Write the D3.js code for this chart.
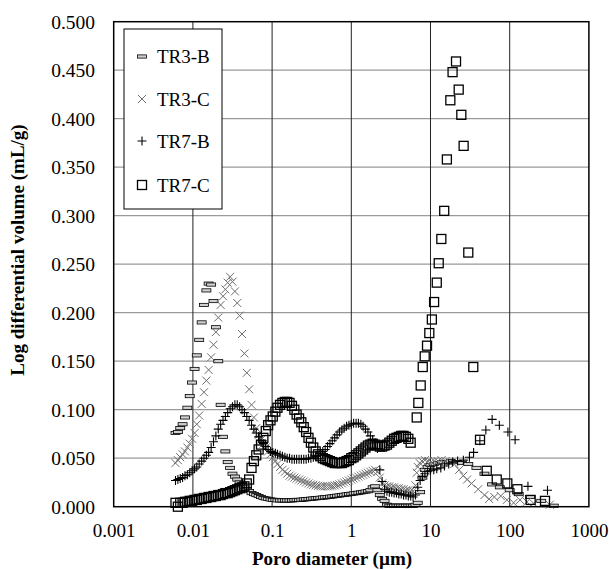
<!DOCTYPE html>
<html>
<head>
<meta charset="utf-8">
<script src="https://cdn.jsdelivr.net/npm/d3@7"></script>
<style>
  body { margin: 0; background: #fff; }
  svg text { font-family: "Liberation Serif", "Times New Roman", "DejaVu Serif", serif; fill: #000; }
</style>
</head>
<body>
<div id="chart"></div>
<script>
// pore diameters (um) shared by the dense part of all four curves
const poreDiameter = [
  0.00603,0.00646,0.00692,0.00741,0.00794,0.00851,0.00912,0.00977,0.0105,0.0112,
  0.0120,0.0129,0.0138,0.0148,0.0158,0.0170,0.0182,0.0195,0.0209,0.0224,
  0.0240,0.0257,0.0275,0.0295,0.0316,0.0339,0.0363,0.0389,0.0417,0.0447,
  0.0479,0.0513,0.0550,0.0589,0.0631,0.0676,0.0724,0.0776,0.0832,0.0891,
  0.0955,0.102,0.110,0.117,0.126,0.135,0.145,0.155,0.166,0.178,
  0.191,0.204,0.219,0.234,0.251,0.269,0.288,0.309,0.331,0.355,
  0.380,0.407,0.437,0.468,0.501,0.537,0.575,0.617,0.661,0.708,
  0.759,0.813,0.871,0.933,1.00,1.07,1.15,1.23,1.32,1.41,
  1.51,1.62,1.74,1.86,2.00,2.14,2.29,2.45,2.63,2.82,
  3.02,3.24,3.47,3.72,3.98,4.27,4.57,4.90,5.25,5.62,
  6.03,6.46
];

const tr3bValues = [
  0.076,0.077,0.081,0.085,0.092,0.102,0.114,0.128,0.142,0.156,
  0.172,0.190,0.208,0.223,0.230,0.229,0.212,0.185,0.150,0.105,
  0.072,0.057,0.046,0.040,0.034,0.031,0.028,0.025,0.022,0.020,
  0.018,0.016,0.014,0.013,0.012,0.011,0.010,0.009,0.0085,0.008,
  0.0075,0.007,0.007,0.0065,0.0065,0.0065,0.0065,0.0065,0.0065,0.0065,
  0.0068,0.007,0.007,0.0072,0.0075,0.0077,0.008,0.0082,0.0085,0.0087,
  0.009,0.0092,0.0095,0.0097,0.010,0.0103,0.0106,0.011,0.0113,0.0116,
  0.012,0.0123,0.0126,0.013,0.0133,0.0137,0.014,0.0144,0.0148,0.0152,
  0.0156,0.016,0.017,0.020,0.021,0.017,0.012,0.008,0.006,0.002,
  0.001,0.001,0.001,0.001,0.001,0.001,0.001,0.001,0.001,0.001,
  0.001,0.002
];
const tr3bTailD = [6.90,7.40,7.90,8.50,9.20,10.0,11.0,12.5,14.0,16.0,18.0,21.0,25.0,30.0,38.0,48.0,60.0,75.0,100,130,180,250,360];
const tr3bTailV = [0.004,0.015,0.030,0.038,0.041,0.043,0.044,0.045,0.046,0.046,0.047,0.046,0.045,0.044,0.040,0.034,0.023,0.020,0.017,0.013,0.010,0.006,0.001];

const tr3cValues = [
  0.045,0.048,0.051,0.054,0.057,0.061,0.065,0.070,0.076,0.085,
  0.094,0.106,0.118,0.130,0.141,0.154,0.167,0.180,0.195,0.208,
  0.217,0.224,0.231,0.237,0.232,0.222,0.210,0.197,0.178,0.158,
  0.138,0.121,0.105,0.092,0.081,0.074,0.069,0.065,0.061,0.057,
  0.054,0.051,0.047,0.044,0.041,0.038,0.036,0.034,0.032,0.031,
  0.030,0.029,0.028,0.027,0.026,0.025,0.024,0.023,0.0225,0.022,
  0.0215,0.021,0.021,0.021,0.021,0.021,0.0215,0.022,0.0225,0.023,
  0.024,0.025,0.026,0.027,0.028,0.029,0.030,0.031,0.032,0.033,
  0.034,0.035,0.036,0.037,0.038,0.036,0.030,0.024,0.022,0.021,
  0.021,0.020,0.020,0.019,0.019,0.018,0.018,0.017,0.017,0.016,
  0.016,0.022
];
const tr3cTailD = [6.70,6.90,7.30,7.80,8.50,9.30,10.2,11.2,12.4,13.8,15.5,17.5,20.0,23.0,26.0,29.0,33.0,40.0,48.0,55.0,64.0,77.0,92.0,112,135,165,200,320];
const tr3cTailV = [0.035,0.041,0.045,0.047,0.048,0.047,0.046,0.047,0.047,0.048,0.047,0.046,0.044,0.038,0.032,0.028,0.024,0.018,0.012,0.008,0.010,0.011,0.007,0.004,0.007,0.005,0.0035,0.002];

const tr7bValues = [
  0.027,0.028,0.029,0.030,0.032,0.033,0.035,0.037,0.039,0.041,
  0.044,0.047,0.050,0.053,0.056,0.061,0.067,0.073,0.080,0.085,
  0.089,0.093,0.097,0.101,0.103,0.105,0.105,0.103,0.100,0.097,
  0.093,0.089,0.084,0.080,0.076,0.072,0.068,0.065,0.062,0.059,
  0.057,0.056,0.055,0.054,0.053,0.052,0.051,0.050,0.050,0.049,
  0.049,0.049,0.049,0.049,0.049,0.049,0.050,0.050,0.051,0.052,
  0.053,0.055,0.057,0.059,0.062,0.065,0.068,0.071,0.074,0.077,
  0.079,0.081,0.083,0.084,0.085,0.086,0.086,0.086,0.085,0.083,
  0.080,0.077,0.073,0.069,0.066,0.060,0.038,0.026,0.018,0.016,
  0.015,0.015,0.014,0.014,0.013,0.013,0.012,0.012,0.011,0.011,
  0.010,0.012
];
const tr7bTailD = [6.90,7.40,7.90,8.50,9.20,10.0,11.0,12.0,13.5,15.0,17.0,19.0,22.0,26.0,31.0,35.0,42.0,50.0,60.0,74.0,95.0,117,170,300];
const tr7bTailV = [0.020,0.027,0.031,0.034,0.036,0.037,0.038,0.039,0.040,0.042,0.044,0.046,0.047,0.048,0.051,0.056,0.068,0.079,0.090,0.084,0.077,0.069,0.021,0.017];

const tr7cValues = [
  0.004,0.000,0.004,0.004,0.005,0.005,0.006,0.006,0.007,0.007,
  0.008,0.008,0.009,0.009,0.010,0.010,0.011,0.011,0.012,0.012,
  0.013,0.014,0.014,0.015,0.016,0.017,0.018,0.019,0.020,0.021,
  0.024,0.028,0.040,0.047,0.053,0.059,0.064,0.071,0.078,0.084,
  0.089,0.093,0.098,0.102,0.105,0.107,0.108,0.108,0.107,0.104,
  0.100,0.095,0.091,0.087,0.082,0.077,0.071,0.066,0.061,0.057,
  0.054,0.052,0.050,0.049,0.048,0.047,0.046,0.045,0.045,0.045,
  0.045,0.046,0.047,0.048,0.050,0.051,0.053,0.055,0.057,0.059,
  0.061,0.063,0.064,0.065,0.064,0.063,0.062,0.062,0.063,0.064,
  0.066,0.068,0.070,0.071,0.072,0.073,0.073,0.072,0.070,0.066,
  null,null
];
const tr7cTailD = [6.70,7.02,7.52,7.98,8.45,9.04,9.66,10.4,11.1,12.0,12.7,13.7,14.9,16.1,17.8,19.0,21.0,22.7,24.5,26.2,30.0,34.7,42.2,51.3,68.6,93.3,125,184,279];
const tr7cTailV = [0.092,0.107,0.125,0.144,0.155,0.166,0.179,0.193,0.211,0.231,0.251,0.276,0.305,0.358,0.419,0.448,0.459,0.430,0.404,0.372,0.262,0.144,0.069,0.037,0.028,0.024,0.018,0.007,0.006];

const seriesNames = ["TR3-B", "TR3-C", "TR7-B", "TR7-C"];
const xTicks = [0.001, 0.01, 0.1, 1, 10, 100, 1000];
const xTickLabels = ["0.001", "0.01", "0.1", "1", "10", "100", "1000"];
const yTicks = [0, 0.05, 0.1, 0.15, 0.2, 0.25, 0.3, 0.35, 0.4, 0.45, 0.5];
const yTickLabels = ["0.000", "0.050", "0.100", "0.150", "0.200", "0.250", "0.300", "0.350", "0.400", "0.450", "0.500"];

const serif = "Liberation Serif, Times New Roman, DejaVu Serif, serif";

function buildPoints(values, tailD, tailV) {
  const pts = [];
  poreDiameter.forEach((d, i) => { if (values[i] != null) pts.push({ d: d, v: values[i] }); });
  tailD.forEach((d, i) => pts.push({ d: d, v: tailV[i] }));
  return pts;
}

const series = [
  { name: seriesNames[0], marker: "dash", pts: buildPoints(tr3bValues, tr3bTailD, tr3bTailV) },
  { name: seriesNames[1], marker: "cross", pts: buildPoints(tr3cValues, tr3cTailD, tr3cTailV) },
  { name: seriesNames[2], marker: "plus", pts: buildPoints(tr7bValues, tr7bTailD, tr7bTailV) },
  { name: seriesNames[3], marker: "square", pts: buildPoints(tr7cValues, tr7cTailD, tr7cTailV) }
];

const width = 609, height = 570;
const margin = { top: 21.7, left: 113.7, right: 20.1, bottom: 63.3 };
const iwidth = width - margin.left - margin.right;
const iheight = height - margin.top - margin.bottom;

const svg = d3.select("#chart").append("svg")
  .attr("width", width)
  .attr("height", height)
  .attr("font-family", serif);

const g = svg.append("g").attr("transform", `translate(${margin.left},${margin.top})`);

const x = d3.scaleLog().domain([0.001, 1000]).range([0, iwidth]);
const y = d3.scaleLinear().domain([0, 0.5]).range([iheight, 0]);

// grid
g.selectAll(".hgrid").data(yTicks.slice(1, -1)).enter().append("line")
  .attr("x1", 0).attr("x2", iwidth)
  .attr("y1", d => y(d)).attr("y2", d => y(d))
  .attr("stroke", "#9a9a9a").attr("stroke-width", 1.3);
g.selectAll(".vgrid").data(xTicks.slice(1, -1)).enter().append("line")
  .attr("x1", d => x(d)).attr("x2", d => x(d))
  .attr("y1", 0).attr("y2", iheight)
  .attr("stroke", "#222").attr("stroke-width", 1);

// axes
const xAxis = g.append("g")
  .attr("transform", `translate(0,${iheight})`)
  .call(d3.axisBottom(x).tickValues(xTicks).tickFormat((d, i) => xTickLabels[i]).tickSize(0))
  .attr("font-family", serif).attr("font-size", 19);
xAxis.select(".domain").remove();
xAxis.selectAll("text").attr("y", 30).attr("dy", null);

const yAxis = g.append("g")
  .call(d3.axisLeft(y).tickValues(yTicks).tickFormat((d, i) => yTickLabels[i]).tickSize(0))
  .attr("font-family", serif).attr("font-size", 19.5);
yAxis.select(".domain").remove();
yAxis.selectAll("text").attr("x", -18.7).attr("dy", "0.33em");

// markers
function drawMarker(sel, type) {
  if (type === "dash") {
    sel.append("rect").attr("x", -4.5).attr("y", -1.6).attr("width", 9).attr("height", 3.2)
      .attr("fill", "#d0d0d0").attr("stroke", "#000").attr("stroke-width", 0.8);
  } else if (type === "cross") {
    sel.append("path").attr("d", "M-4,-4L4,4M-4,4L4,-4")
      .attr("fill", "none").attr("stroke", "#6e6e6e").attr("stroke-width", 1);
  } else if (type === "plus") {
    sel.append("path").attr("d", "M-4.5,0H4.5M0,-4.5V4.5")
      .attr("fill", "none").attr("stroke", "#000").attr("stroke-width", 1.1);
  } else {
    sel.append("rect").attr("x", -4.5).attr("y", -4.5).attr("width", 9).attr("height", 9)
      .attr("fill", "none").attr("stroke", "#000").attr("stroke-width", 1.3);
  }
}

series.forEach(s => {
  g.append("g").selectAll("g").data(s.pts).enter().append("g")
    .attr("transform", d => `translate(${x(d.d)},${y(d.v)})`)
    .each(function () { drawMarker(d3.select(this), s.marker); });
});

// plot frame
g.append("rect").attr("width", iwidth).attr("height", iheight)
  .attr("fill", "none").attr("stroke", "#000").attr("stroke-width", 1.5);

// legend
const legend = svg.append("g").attr("transform", "translate(124,29)");
legend.append("rect").attr("width", 98).attr("height", 180)
  .attr("fill", "#fff").attr("stroke", "#000").attr("stroke-width", 1);
const legendY = [27.5, 70, 112, 156];
series.forEach((s, i) => {
  const item = legend.append("g").attr("transform", `translate(18,${legendY[i]})`);
  drawMarker(item, s.marker);
  item.append("text").attr("x", 15).attr("dy", "0.35em")
    .attr("font-size", 19).text(s.name);
});

// axis titles
svg.append("text").attr("x", 332).attr("y", 565).attr("text-anchor", "middle")
  .attr("font-size", 19).attr("font-weight", "bold").text("Poro diameter (\u00b5m)");
svg.append("text").attr("transform", "translate(24,250) rotate(-90)").attr("text-anchor", "middle")
  .attr("font-size", 19).attr("font-weight", "bold").text("Log differential volume (mL/g)");
</script>
</body>
</html>
